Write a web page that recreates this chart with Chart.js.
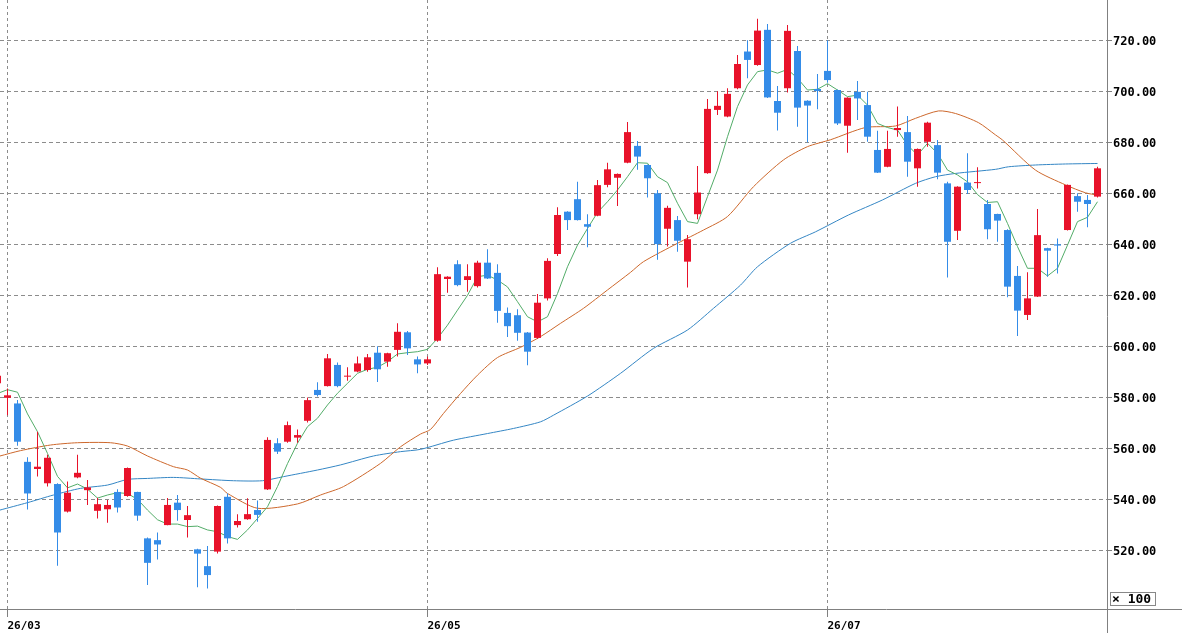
<!DOCTYPE html>
<html>
<head>
<meta charset="utf-8">
<title>daily candles</title>
<script src="https://cdn.jsdelivr.net/npm/chart.js@4.4.1/dist/chart.umd.min.js"></script>
<style>
html, body { margin: 0; padding: 0; background: #fff; }
#wrap { position: relative; width: 1182px; height: 635px; }
#unit {
	position: absolute; left: 1110px; top: 592px; width: 43px; height: 12px;
	border: 1px solid #888; padding-left: 1px;
	font: bold 13px "DejaVu Sans Mono", monospace; line-height: 12px;
	white-space: pre; color: #000; overflow: hidden;
}
</style>
</head>
<body>
<div id="wrap"><canvas id="chart"></canvas><div id="unit">× 100</div></div>
<script>
//-----------------------------------------------------------------------------
// data (index -1 is the candle cut by the left edge)
//-----------------------------------------------------------------------------
var firstIdx = -1;

var opens = [585.5,
	579.8, 577.6, 554.7, 551.9, 546.3, 546, 535.2, 548.6, 543.6, 535.5,
	536.1, 542.9, 541.3, 542.9, 524.7, 524, 529.9, 538.7, 531.9, 520.4,
	513.8, 519.5, 541, 529.9, 532.2, 535.8, 543.9, 562, 562.6, 564.2,
	570.8, 582.9, 584.4, 592.7, 588.1, 590.1, 590.7, 597.5, 594, 598.6,
	605.5, 594.9, 593.3, 602.2, 626.4, 632.2, 626, 623.6, 632.8, 628.8,
	613.1, 612.2, 605.4, 603.3, 618.8, 636.2, 652.8, 657.7, 647.9, 651.2,
	663.3, 666.1, 672, 678.6, 671.1, 660, 646.1, 649.5, 633.2, 651.8,
	667.9, 692.7, 690.1, 701.2, 715.6, 710.3, 724.1, 696.2, 701.2, 715.8,
	696.3, 700.9, 708, 700.5, 686.5, 699.8, 694.6, 677, 670.4, 684.8,
	684, 669.8, 680.2, 678.9, 663.9, 645.3, 664.2, 664, 655.8, 651.9,
	645.6, 627.6, 612.3, 619.5, 638.5, 640, 645.6, 658.9, 657.4, 658.7];

var highs = [590,
	583.5, 579, 556.5, 566.5, 557.5, 546.3, 547, 557.5, 547.6, 540.6,
	539.7, 544, 552.5, 543, 525, 527, 540.5, 541.7, 537.4, 520.6,
	521.7, 537.6, 542.3, 534.2, 540.4, 539.5, 564.3, 564, 570.5, 567.4,
	579.9, 585.9, 597, 593.7, 591.8, 596, 597, 600, 597.5, 609,
	606, 596, 596, 631, 627.5, 633.8, 632.2, 633.6, 638.1, 632.2,
	615.2, 614.5, 605.6, 620.5, 634.5, 654.5, 653, 664.5, 651.8, 665.2,
	672, 667.8, 688, 680.5, 671.3, 661.3, 655.1, 651.1, 643.7, 670.7,
	697, 700, 701.2, 714.2, 720, 728.4, 726.4, 702.1, 726, 717.8,
	696.5, 706.8, 720, 700.7, 697.7, 704, 699.8, 684.5, 684.5, 694,
	690.3, 677.6, 688.1, 680.9, 664.5, 662.8, 675.7, 670.2, 657.4, 652,
	645.9, 631.5, 629, 653.8, 638.7, 642.3, 663.5, 660, 659.3, 670.4];

var lows = [584,
	573, 561, 536, 549, 545, 514, 534.8, 548.3, 537.8, 532.5,
	530.8, 534.8, 541, 531.6, 506.4, 516.4, 529.8, 531.6, 525, 505.5,
	505, 518.8, 522.7, 529, 532, 531.2, 543.7, 557.8, 562.2, 562.2,
	570.1, 580.3, 584.2, 584, 586.5, 589.8, 590, 586, 592, 596,
	596.6, 589.4, 592.7, 601.8, 621, 623.6, 621.4, 623.1, 626.4, 609.2,
	603.7, 602.2, 592.6, 603, 618, 635.4, 645.6, 649.3, 638.8, 651,
	662.4, 655, 671.8, 669.2, 658.4, 633.9, 639.1, 637.1, 623.1, 649.8,
	667.7, 690.7, 689.8, 700.8, 705.1, 710, 697.4, 684.6, 699.5, 686.1,
	680, 693, 703.4, 686.8, 675.9, 688.7, 680.2, 668, 670.2, 682.2,
	666.5, 662.6, 678.3, 665.5, 627, 641.7, 659.7, 661.9, 642, 641,
	619.2, 604, 610.3, 619.3, 627.3, 628.6, 645.4, 652.8, 646.7, 658.4];

var closes = [588.5,
	580.8, 562.6, 542.3, 552.8, 556.3, 527, 542.6, 550.4, 544.7, 538.1,
	537.8, 536.8, 552.3, 533.6, 515.1, 522.3, 537.8, 535.8, 533.8, 518.7,
	510.3, 537.4, 524.7, 531.5, 534.2, 533.9, 563.3, 558.7, 569.1, 565.2,
	578.9, 580.9, 595.3, 584.4, 588.5, 593.3, 595.7, 591, 597.3, 605.7,
	599.2, 592.9, 594.9, 628.3, 627.3, 624, 627.5, 632.8, 626.6, 613.9,
	607.9, 605.3, 597.9, 617.1, 633.5, 651.5, 649.5, 649.5, 646.9, 663.2,
	669.4, 667.6, 684, 674.4, 665.9, 640.1, 654.3, 641.4, 642, 660.3,
	693.1, 694.3, 699, 710.7, 712.3, 723.8, 697.6, 691.6, 723.7, 693.6,
	694.4, 700.1, 704.4, 687.4, 697.5, 697.2, 682.2, 668.1, 677.4, 685.6,
	672.4, 677.4, 687.7, 668.1, 641, 662.6, 661.3, 664.4, 645.9, 649.3,
	623.4, 614, 618.8, 643.6, 637.5, 639.5, 663.3, 656.7, 655.8, 669.8];

// short average (green), one value per candle
var maShort = [581.5,
	583, 582, 573.5, 566.5, 558, 549, 544.5, 546, 544, 540.5,
	541.7, 542.6, 542.3, 540, 535.8, 532, 530.3, 530.3, 529.3, 529.5,
	528, 527.3, 525.4, 524.3, 528, 532.5, 537.1, 545, 554, 562,
	568.5, 571.8, 577, 581.6, 585.5, 589.4, 591, 591.8, 594, 597,
	597.5, 597.9, 598.8, 603.1, 608.3, 614.2, 620, 627.3, 627.9, 626,
	623.3, 617.5, 611.6, 609.6, 611.6, 620.7, 631.2, 639.7, 646.2, 652.5,
	656.7, 661.3, 666.5, 672, 671.8, 666.5, 664.2, 656.1, 648.9, 648.2,
	658.7, 669.1, 682.2, 694, 702.5, 707.7, 708.4, 707.1, 708.6, 705.1,
	700.5, 700.8, 703, 700.5, 697.9, 698.5, 694.6, 687.4, 685.8, 684.8,
	678.9, 675, 679.6, 675.7, 669.1, 667.2, 664.5, 659.5, 656.4, 656.7,
	648.2, 639.1, 630.6, 630.6, 627.6, 630.6, 639.7, 648.9, 650.6, 656.7];

// middle average (orange), read at these candle positions
var maMidAt = [-0.75, 1.3, 4.3, 7, 10.3, 12, 14, 16.6, 18, 19.3,
	21.3, 22, 25, 29, 31.3, 33.6, 37.3, 39.3, 41.3, 42.3,
	43.6, 45.3, 47, 49, 51.3, 53.3, 55.3, 57.6, 60, 62.3,
	63.6, 67, 69.6, 72, 74.6, 77.6, 80, 82.3, 85.8, 88.8,
	90.8, 93.1, 94.8, 97.1, 98.8, 99.5, 102.8, 105.8, 107.8, 109];
var maMid = [557, 559.1, 561.3, 562.2, 562.2, 560.9, 557, 552.8, 551.5, 548.3,
	544.7, 542.3, 536.5, 538.2, 541.7, 545, 554.1, 560.6, 565.6, 567.4,
	573.7, 581.5, 588.7, 595.6, 599.6, 603.8, 609, 614.9, 622.1, 629,
	633.2, 640.4, 645.6, 650.9, 662.6, 673.1, 678.3, 681, 685.8, 686.4,
	689.4, 692.3, 691.3, 687.7, 682.9, 680.9, 669.1, 663.3, 660.2, 659.3];

// long average (blue)
var maLongAt = [-0.75, 2, 4.6, 7.3, 10, 12, 14, 16.6, 19.3, 22.6,
	25.5, 27.6, 31, 33.3, 36.6, 39.3, 41.3, 44.6, 48, 50.6,
	53.3, 54.6, 58, 61.3, 64.6, 68, 70.6, 73.3, 75, 78.3,
	80.8, 84.1, 87.5, 90.8, 92.8, 94.8, 98.8, 100.1, 102.8, 105.8, 109];
var maLong = [535.8, 538.7, 541.7, 544.3, 545.6, 547.8, 548.2, 548.6, 548, 547.3,
	547.3, 548.9, 551.5, 553.5, 557, 558.7, 559.6, 563.2, 565.8, 567.8,
	570.4, 573, 580.5, 589.4, 599.2, 606.4, 614.9, 624, 631.2, 640.4,
	644.9, 651.5, 657.4, 663.9, 666.5, 667.8, 669.4, 670.4, 671.1, 671.5, 671.7];

var yTicks = [520, 540, 560, 580, 600, 620, 640, 660, 680, 700, 720];
var dateIdx = [0, 42, 82];
var dateLabels = ["26/03", "26/05", "26/07"];

//-----------------------------------------------------------------------------
var UP = "rgb(232,18,42)";
var DOWN = "rgb(52,140,232)";
var GRID = "#8c8c8c";
var AXIS = "#808080";
var FONT = "'DejaVu Sans Mono', monospace";

var bodies = [], wicks = [], shortPts = [];
for (var i = 0; i < opens.length; i++) {
	var x = firstIdx + i;
	bodies.push({x: x, y: [opens[i], closes[i]]});
	wicks.push({x: x, y: [lows[i], highs[i]]});
	shortPts.push({x: x, y: maShort[i]});
}

function points(at, vals) {
	var out = [];
	for (var i = 0; i < at.length; i++)
		out.push({x: at[i], y: vals[i]});
	return out;
}

function candleColor(ctx) {
	var i = ctx.dataIndex;
	return closes[i] >= opens[i] ? UP : DOWN;
}

// axis lines run past the plot area, as in the original
var axisLines = {
	id: "axisLines",
	afterDraw: function(chart) {
		var c = chart.ctx, a = chart.chartArea;
		c.save();
		c.strokeStyle = AXIS;
		c.lineWidth = 1;
		c.beginPath();
		c.moveTo(0, a.bottom + 0.5);
		c.lineTo(chart.width, a.bottom + 0.5);
		c.moveTo(a.right + 0.5, 0);
		c.lineTo(a.right + 0.5, 633);
		c.stroke();
		c.restore();
	}
};

new Chart(document.getElementById("chart"), {
	type: "bar",
	data: {
		datasets: [
			{type: "bar", data: bodies, backgroundColor: candleColor, borderWidth: 0,
				barThickness: 7, grouped: false, inflateAmount: 0},
			{type: "bar", data: wicks, backgroundColor: candleColor, borderWidth: 0,
				barThickness: 1, grouped: false, inflateAmount: 0},
			{type: "line", data: shortPts, borderColor: "rgb(82,172,104)", borderWidth: 1,
				pointRadius: 0, tension: 0},
			{type: "line", data: points(maMidAt, maMid), borderColor: "rgb(205,104,44)",
				borderWidth: 1, pointRadius: 0, tension: 0.25},
			{type: "line", data: points(maLongAt, maLong), borderColor: "rgb(52,134,196)",
				borderWidth: 1, pointRadius: 0, tension: 0.25}
		]
	},
	options: {
		responsive: true,
		maintainAspectRatio: false,
		animation: false,
		events: [],
		layout: {padding: 0},
		plugins: {legend: {display: false}, tooltip: {enabled: false}},
		scales: {
			x: {
				type: "linear",
				position: "bottom",
				offset: false,
				min: -0.75,
				max: 109.95,
				afterBuildTicks: function(s) {
					s.ticks = dateIdx.map(function(v) { return {value: v}; });
				},
				afterFit: function(s) {
					s.height = 26;
					s.paddingLeft = 0;
					s.paddingRight = 0;
				},
				grid: {offset: false, color: GRID, lineWidth: 1, tickLength: 8, tickColor: AXIS},
				border: {display: false, dash: [3, 3]},
				ticks: {
					autoSkip: false, maxRotation: 0, align: "start", padding: 3,
					color: "#000", font: {family: FONT, size: 11, weight: "bold"},
					callback: function(v, i) { return dateLabels[i]; }
				}
			},
			y: {
				type: "linear",
				position: "right",
				min: 497,
				max: 735.8,
				afterBuildTicks: function(s) {
					s.ticks = yTicks.map(function(v) { return {value: v}; });
				},
				afterFit: function(s) {
					s.width = 75;
					s.paddingTop = 0;
					s.paddingBottom = 0;
				},
				grid: {color: GRID, lineWidth: 1, tickLength: 5, tickColor: AXIS},
				border: {display: false, dash: [4, 3]},
				ticks: {
					padding: 1, labelOffset: 2, color: "#000",
					font: {family: FONT, size: 12, weight: "bold"},
					callback: function(v) { return v.toFixed(2); }
				}
			}
		}
	},
	plugins: [axisLines]
});
</script>
</body>
</html>
